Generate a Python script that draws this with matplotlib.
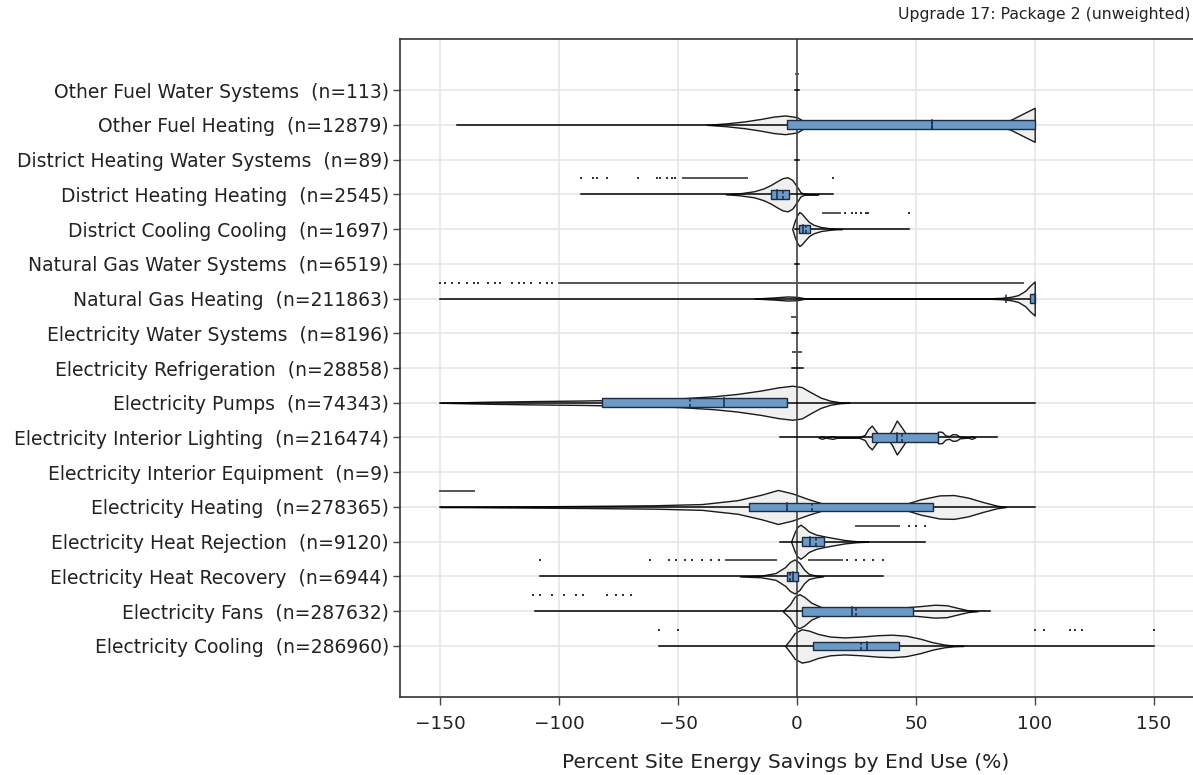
import numpy as np
import matplotlib.pyplot as plt
from matplotlib.patches import Rectangle

# categories listed bottom -> top
categories = ["Electricity Cooling", "Electricity Fans", "Electricity Heat Recovery",
              "Electricity Heat Rejection", "Electricity Heating", "Electricity Interior Equipment",
              "Electricity Interior Lighting", "Electricity Pumps", "Electricity Refrigeration",
              "Electricity Water Systems", "Natural Gas Heating", "Natural Gas Water Systems",
              "District Cooling Cooling", "District Heating Heating", "District Heating Water Systems",
              "Other Fuel Heating", "Other Fuel Water Systems"]
counts = [286960, 287632, 6944, 9120, 278365, 9, 216474, 74343, 28858, 8196,
          211863, 6519, 1697, 2545, 89, 12879, 113]

# box statistics (None = no box drawn)
q1 = [6.7, 2, -4.3, 2, -20, None, 31.5, -82, None, None, 98, None, 0.8, -11, None, -4.4, None]
med = [29.5, 23, -1.5, 5.5, -4, None, 42, -30.7, None, None, 100, None, 2.5, -8.5, None, 56.8, None]
mean = [27, 25, -2.8, 7.9, 6.5, None, 44, -45, None, None, 88, None, 3.8, -5.8, None, 56.8, None]
q3 = [43, 49, 0.4, 11.3, 57.3, None, 59.3, -4.2, None, None, 100, None, 5.5, -3.4, None, 100, None]
# whisker line extent
lo = [-58, -110, -108, -7, -150, None, -7, -150, -2, -2, -150, -1, -1, -91, -1, -143, -1]
hi = [150, 81, 36, 54, 100, None, 84, 100, 2.5, 0.5, 100, 1, 47, 15, 1, 100, 1]

# violin outlines: x knots and relative half-widths
violin_x = [
    [-5, -3, -1, 2, 5, 9, 14, 20, 27, 34, 40, 46, 52, 57, 62, 66, 70],
    [-6, -3, -1, 1, 3, 6, 10, 15, 25, 35, 45, 52, 58, 63, 68, 72, 76],
    [-24, -15, -9, -5, -3, -1, 1, 3, 5, 8, 11],
    [-2.5, -1, 0, 1.5, 3, 5, 8, 12, 16, 20, 25, 30],
    [-150, -120, -90, -60, -40, -25, -15, -8, -2, 5, 12, 18, 25, 35, 45, 52, 60, 66, 72, 78, 84, 88],
    [],
    [9, 10.5, 12, 15, 17, 26, 28.5, 30, 31.5, 33, 35, 38, 40, 42, 44, 46.5, 50, 55, 58, 59.5,
     61, 62.5, 64, 65.5, 67, 68.5, 72, 73.5, 75],
    [-150, -130, -110, -90, -70, -50, -35, -25, -15, -8, -2, 2, 6, 10, 14, 18, 22],
    [], [],
    [-18, -10, -4, 0, 3, 10, 30, 60, 80, 86, 90, 93, 96, 98, 100],
    [],
    [-2, -1, 0, 1, 2, 3.5, 5, 7, 10, 13, 16, 19],
    [-30, -24, -18, -14, -11, -8, -6, -4, -2, 0, 1.5, 3, 6, 9],
    [],
    [-38, -30, -22, -15, -10, -5, 0, 3, 6, 20, 50, 80, 85, 90, 95, 100],
    [],
]
violin_w = [
    [0, 0.35, 0.75, 0.98, 0.9, 0.7, 0.55, 0.5, 0.55, 0.63, 0.66, 0.6, 0.42, 0.22, 0.08, 0.02, 0],
    [0, 0.4, 0.85, 1.0, 0.85, 0.5, 0.25, 0.15, 0.12, 0.15, 0.22, 0.3, 0.38, 0.35, 0.18, 0.05, 0],
    [0, 0.05, 0.2, 0.55, 0.85, 1.0, 0.8, 0.4, 0.15, 0.05, 0],
    [0, 0.55, 0.85, 1.0, 0.85, 0.6, 0.42, 0.3, 0.2, 0.1, 0.03, 0],
    [0, 0.03, 0.06, 0.1, 0.17, 0.4, 0.72, 1.0, 0.8, 0.45, 0.15, 0.06, 0.05, 0.06, 0.15, 0.45,
     0.68, 0.7, 0.55, 0.3, 0.08, 0],
    [],
    [0, 0.08, 0.01, 0.08, 0.01, 0.01, 0.15, 0.5, 0.7, 0.4, 0.06, 0.06, 0.45, 1.0, 0.6, 0.08, 0.04,
     0.04, 0.1, 0.35, 0.33, 0.12, 0.08, 0.2, 0.18, 0.05, 0.01, 0.08, 0],
    [0, 0.06, 0.1, 0.13, 0.18, 0.25, 0.38, 0.52, 0.72, 0.9, 1.0, 0.92, 0.6, 0.3, 0.12, 0.03, 0],
    [], [],
    [0, 0.06, 0.12, 0.1, 0.02, 0.005, 0.003, 0.003, 0.01, 0.04, 0.1, 0.2, 0.45, 0.75, 1.0],
    [],
    [0, 0.45, 0.8, 1.0, 0.9, 0.65, 0.42, 0.25, 0.12, 0.06, 0.02, 0],
    [0, 0.06, 0.18, 0.35, 0.55, 0.8, 0.95, 1.0, 0.85, 0.45, 0.12, 0.03, 0.01, 0],
    [],
    [0, 0.08, 0.2, 0.35, 0.48, 0.55, 0.45, 0.2, 0, 0, 0, 0, 0.05, 0.3, 0.65, 1.0],
    [],
]

# outliers: single points and dense runs (start, end)
outlier_pts = [
    [-58, -50, 100, 104, 115, 117, 120, 150],
    [-111, -108, -103, -98, -93, -90, -80, -76, -73, -70],
    [-108, -62, -54, -51, -47, -44, -40, -36, -33, 21, 25, 28, 32, 36],
    [47, 50, 54],
    [], [], [], [], [], [],
    [-150, -148, -145, -142, -139, -136, -134, -130, -127, -125, -120, -117, -115, -112, -108, -105, -103],
    [],
    [20, 23, 25, 27, 29, 30, 47],
    [-91, -86, -84, -80, -67, -59, -57.6, -54.7, -52.6, -51.3, 15],
    [], [], [],
]
outlier_runs = [
    [], [], [(-30, -9), (5, 19)], [(25, 43)], [(-150, -136)], [], [], [],
    [(-1.5, 1.5)], [(-2, 0)], [(-100, 95)], [], [(11, 18)], [(-48, -21)], [], [], [(-0.5, 0.5)],
]

VW = 0.49     # max violin half-width
BH = 0.125    # box half-height
OFF = 0.46    # outlier offset above the violin
box_color = "#6b9ac7"
edge = "#1c2a44"

fig = plt.figure(figsize=(11.93, 7.75), dpi=100)
ax = fig.add_axes([400 / 1193, 1 - 697 / 775, 1 - 400 / 1193, (697 - 39) / 775])

for i in range(len(categories)):
    y = i
    if violin_x[i]:
        xs = np.array(violin_x[i], dtype=float)
        ws = np.array(violin_w[i], dtype=float) * VW
        ax.fill_between(xs, y - ws, y + ws, facecolor="#f0f0f0", edgecolor="#1a1a1a",
                        lw=1.0, zorder=2)
    if lo[i] is not None:
        ax.plot([lo[i], hi[i]], [y, y], color="black", lw=1.1, zorder=3)
    if q1[i] is not None:
        ax.add_patch(Rectangle((q1[i], y - BH), q3[i] - q1[i], 2 * BH, facecolor=box_color,
                               edgecolor=edge, lw=1.0, zorder=4))
        ax.plot([med[i], med[i]], [y - BH, y + BH], color=edge, lw=1.1, zorder=5)
        ax.plot([mean[i], mean[i]], [y - BH, y + BH], color=edge, lw=1.1, ls=(0, (2, 1.5)), zorder=5)
    if outlier_pts[i]:
        ax.scatter(outlier_pts[i], [y + OFF] * len(outlier_pts[i]), s=2.5, marker="s",
                   color="#333333", lw=0, zorder=3)
    for a, b in outlier_runs[i]:
        ax.plot([a, b], [y + OFF, y + OFF], color="#555555", lw=1.4, zorder=3)

ax.axvline(0, color="#444444", lw=1.2, zorder=2.5)

ax.set_xlim(-167, 166.6)
ax.set_ylim(-1.47, 17.47)
ax.set_xticks([-150, -100, -50, 0, 50, 100, 150])
ax.set_yticks(range(len(categories)))
ax.set_yticklabels([f"{c}  (n={n})" for c, n in zip(categories, counts)])
ax.grid(color="#e6e6e6", lw=1.2)
ax.set_axisbelow(True)
ax.tick_params(axis="y", length=5, width=1, color="#444444", pad=3, labelsize=13.5, labelcolor="#222222")
ax.tick_params(axis="x", length=6, width=1, color="#444444", pad=7, labelsize=13.3, labelcolor="#222222")
for s in ["left", "bottom", "top"]:
    ax.spines[s].set_color("#333333")
    ax.spines[s].set_linewidth(1.2)
ax.spines["right"].set_visible(False)

fig.text(1190 / 1193, 1 - 14 / 775, "Upgrade 17: Package 2 (unweighted)", ha="right", va="center",
         fontsize=11.3, color="#222222")
fig.text(786 / 1193, 1 - 763 / 775, "Percent Site Energy Savings by End Use (%)", ha="center",
         va="center", fontsize=14.6, color="#222222")

fig.savefig("out.png", dpi=100)
